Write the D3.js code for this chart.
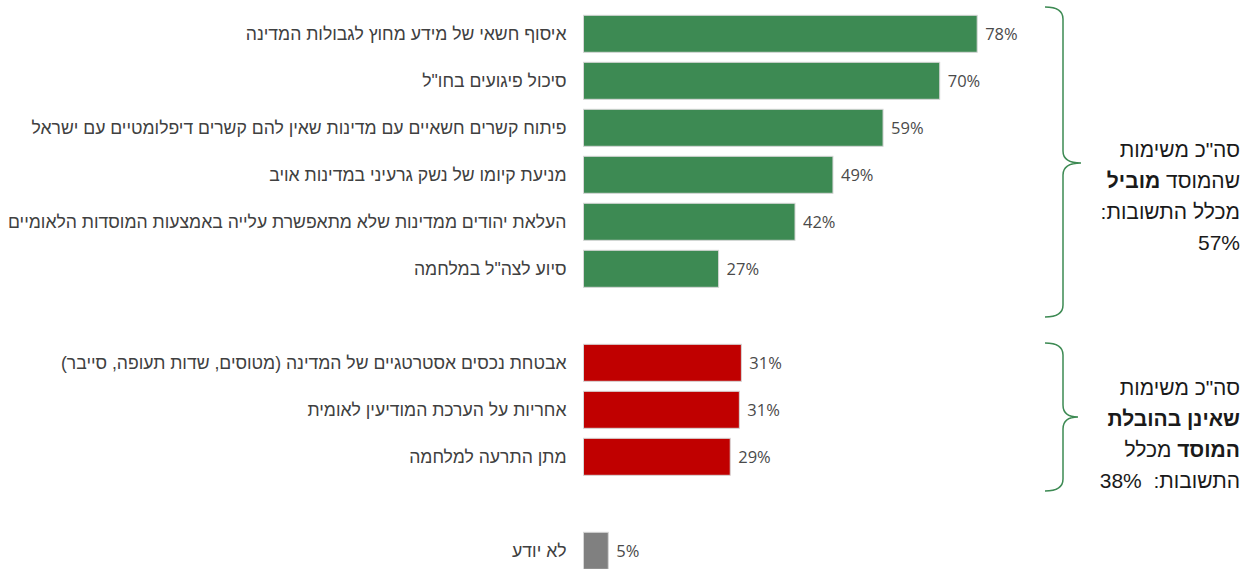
<!DOCTYPE html>
<html lang="he">
<head>
<meta charset="utf-8">
<script src="https://cdn.jsdelivr.net/npm/d3@7"></script>
<style>
  html, body { margin: 0; padding: 0; background: #fff; }
  svg { display: block; }
</style>
</head>
<body>
<svg id="chart" width="1252" height="569"></svg>
<script>
// ---- data ----
const leadCategories = [
  "איסוף חשאי של מידע מחוץ לגבולות המדינה",
  "סיכול פיגועים בחו\"ל",
  "פיתוח קשרים חשאיים עם מדינות שאין להם קשרים דיפלומטיים עם ישראל",
  "מניעת קיומו של נשק גרעיני במדינות אויב",
  "העלאת יהודים ממדינות שלא מתאפשרת עלייה באמצעות המוסדות הלאומיים",
  "סיוע לצה\"ל במלחמה"
];
const leadValues = [77.8, 70.4, 59.2, 49.3, 41.8, 26.7];

const notLeadCategories = [
  "אבטחת נכסים אסטרטגיים של המדינה (מטוסים, שדות תעופה, סייבר)",
  "אחריות על הערכת המודיעין לאומית",
  "מתן התרעה למלחמה"
];
const notLeadValues = [31.2, 30.8, 29.0];

const unknownCategories = ["לא יודע"];
const unknownValues = [4.9];

const groupColors = { lead: "#3d8a53", notLead: "#c00000", unknown: "#808080" };

const summaryLead = [
  [{ t: "סה\"כ משימות", b: false }],
  [{ t: "שהמוסד ", b: false }, { t: "מוביל", b: true }],
  [{ t: "מכלל התשובות:", b: false }],
  [{ t: "57%", b: false }]
];
const summaryNotLead = [
  [{ t: "סה\"כ משימות", b: false }],
  [{ t: "שאינן בהובלת", b: true }],
  [{ t: "המוסד", b: true }, { t: " מכלל", b: false }],
  [{ t: "התשובות:\u00a0\u00a038%", b: false }]
];

// ---- build rows ----
const rows = [];
leadCategories.forEach((c, i) => rows.push({ key: c, label: c, value: leadValues[i], group: "lead" }));
rows.push({ key: "__gap1", gap: true });
notLeadCategories.forEach((c, i) => rows.push({ key: c, label: c, value: notLeadValues[i], group: "notLead" }));
rows.push({ key: "__gap2", gap: true });
unknownCategories.forEach((c, i) => rows.push({ key: c, label: c, value: unknownValues[i], group: "unknown" }));
const bars = rows.filter(r => !r.gap);

const svg = d3.select("#chart");

const x = d3.scaleLinear().domain([0, 100]).range([583.5, 583.5 + 506]);
const y = d3.scaleBand().domain(rows.map(r => r.key)).range([15.3, 569.3]).paddingInner(0.213).paddingOuter(0);

// bars
svg.append("g").selectAll("rect").data(bars).join("rect")
  .attr("x", x(0))
  .attr("y", d => y(d.key))
  .attr("width", d => x(d.value) - x(0))
  .attr("height", y.bandwidth())
  .attr("fill", d => groupColors[d.group])
  .attr("stroke", "#d6d6d6")
  .attr("stroke-width", 1);

// category labels (RTL, right-aligned)
svg.append("g").selectAll("text").data(bars).join("text")
  .attr("x", x(0) - 17)
  .attr("y", d => y(d.key) + y.bandwidth() / 2)
  .attr("dy", "0.35em")
  .attr("direction", "rtl")
  .attr("text-anchor", "start")
  .style("font-family", "'Liberation Sans', Arial, sans-serif")
  .style("font-size", "17.6px")
  .attr("fill", "#404040")
  .text(d => d.label);

// value labels
svg.append("g").selectAll("text").data(bars).join("text")
  .attr("x", d => x(d.value) + 8)
  .attr("y", d => y(d.key) + y.bandwidth() / 2)
  .attr("dy", "0.37em")
  .style("font-family", "'Open Sans', sans-serif")
  .style("font-size", "16.5px")
  .attr("fill", "#4a4a4a")
  .text(d => d3.format(".0f")(d.value) + "%");

// braces
function brace(top, bottom, tip, xv, xl, xt) {
  const r = 12;
  return `M${xl},${top} Q${xv},${top} ${xv},${top + r} L${xv},${tip - r} Q${xv},${tip} ${xt},${tip} ` +
         `Q${xv},${tip} ${xv},${tip + r} L${xv},${bottom - r} Q${xv},${bottom} ${xl},${bottom}`;
}
svg.append("path").attr("d", brace(7, 317, 163, 1063, 1045, 1081))
  .attr("fill", "none").attr("stroke", "#3d8a53").attr("stroke-width", 1.5);
svg.append("path").attr("d", brace(343, 491, 417, 1063, 1045, 1078))
  .attr("fill", "none").attr("stroke", "#3d8a53").attr("stroke-width", 1.5);

// summary texts
function summary(lines, y0) {
  const g = svg.append("g");
  lines.forEach((parts, i) => {
    const t = g.append("text")
      .attr("x", 1240)
      .attr("y", y0 + i * 31)
      .attr("direction", "rtl")
      .attr("text-anchor", "start")
      .style("font-family", "'Liberation Sans', Arial, sans-serif")
      .style("font-size", "21px")
      .attr("fill", "#1a1a1a");
    parts.forEach(p => t.append("tspan").style("font-weight", p.b ? "bold" : "normal").text(p.t));
  });
}
summary(summaryLead, 157);
summary(summaryNotLead, 395);
</script>
</body>
</html>
